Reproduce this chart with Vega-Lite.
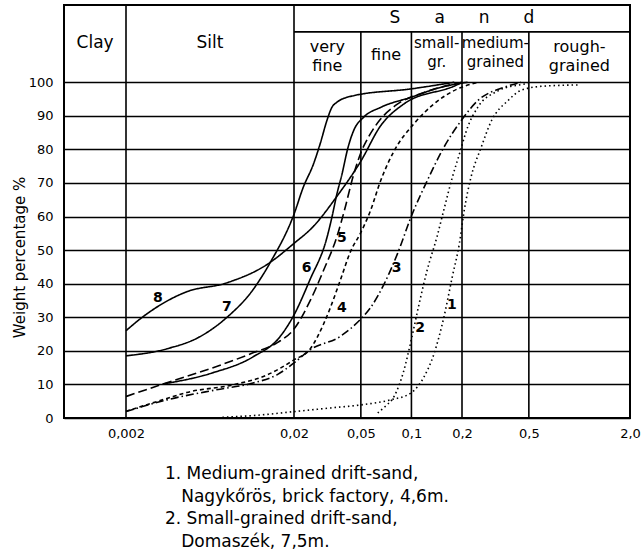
{
  "$schema": "https://vega.github.io/schema/vega-lite/v6.json",
  "width": 566,
  "height": 413,
  "autosize": {"type": "none"},
  "padding": {"left": 64, "top": 5, "right": 14, "bottom": 142},
  "background": "white",
  "config": {"view": {"stroke": "black", "strokeWidth": 2}, "font": "DejaVu Sans"},
  "title": {
    "text": ["1. Medium-grained drift-sand,", "\u200b\u00a0\u00a0\u00a0Nagykőrös, brick factory, 4,6m.", "2. Small-grained drift-sand,", "\u200b\u00a0\u00a0\u00a0Domaszék, 7,5m."],
    "orient": "bottom", "anchor": "start", "frame": "group", "align": "left",
    "dx": 101, "offset": 26, "fontSize": 17, "fontWeight": "normal", "lineHeight": 22.7,
    "color": "black", "font": "DejaVu Sans"
  },
  "datasets": {
    "bounds": [
      {"size": 0.002, "from": 0, "top": 123}, {"size": 0.02, "from": 0, "top": 123}, {"size": 0.05, "from": 0, "top": 115},
      {"size": 0.1, "from": 0, "top": 115}, {"size": 0.2, "from": 0, "top": 115}, {"size": 0.5, "from": 0, "top": 115}
    ],
    "seps": [{"from": 0.02, "to": 2.0, "level": 115}],
    "header": [
      {"label": "Clay", "size": 0.00131, "pct": 111.6, "kind": "main"},
      {"label": "Silt", "size": 0.00632, "pct": 111.6, "kind": "main"},
      {"label": "S\u2003\u2003a\u2003\u2003n\u2003\u2003d", "size": 0.2, "pct": 119, "kind": "main"},
      {"label": "very\nfine", "size": 0.0316, "pct": 110.4, "kind": "sub"},
      {"label": "fine", "size": 0.0707, "pct": 108.2, "kind": "sub"},
      {"label": "small-\ngr.", "size": 0.1414, "pct": 111.6, "kind": "narrow"},
      {"label": "medium-\ngrained", "size": 0.316, "pct": 111.6, "kind": "narrow"},
      {"label": "rough-\ngrained", "size": 1.0, "pct": 110.6, "kind": "sub"}
    ],
    "labels": [
      {"curve": "1", "size": 0.1743, "pct": 33.7},
      {"curve": "2", "size": 0.1125, "pct": 26.8},
      {"curve": "3", "size": 0.0816, "pct": 44.6},
      {"curve": "4", "size": 0.0385, "pct": 32.7},
      {"curve": "5", "size": 0.0385, "pct": 53.6},
      {"curve": "6", "size": 0.0238, "pct": 44.6},
      {"curve": "7", "size": 0.00798, "pct": 33.0},
      {"curve": "8", "size": 0.0031, "pct": 35.7}
    ],
    "curves": [
      {"curve": "1", "size": 0.0075, "pct": 0.2},
      {"curve": "1", "size": 0.012, "pct": 0.8},
      {"curve": "1", "size": 0.02, "pct": 1.9},
      {"curve": "1", "size": 0.033, "pct": 3.0},
      {"curve": "1", "size": 0.05, "pct": 3.9},
      {"curve": "1", "size": 0.075, "pct": 5.4},
      {"curve": "1", "size": 0.099, "pct": 7.4},
      {"curve": "1", "size": 0.119, "pct": 12.3},
      {"curve": "1", "size": 0.136, "pct": 19},
      {"curve": "1", "size": 0.156, "pct": 30},
      {"curve": "1", "size": 0.175, "pct": 42},
      {"curve": "1", "size": 0.193, "pct": 52},
      {"curve": "1", "size": 0.206, "pct": 61.7},
      {"curve": "1", "size": 0.226, "pct": 71.6},
      {"curve": "1", "size": 0.26, "pct": 80.6},
      {"curve": "1", "size": 0.3, "pct": 88.6},
      {"curve": "1", "size": 0.375, "pct": 94.5},
      {"curve": "1", "size": 0.45, "pct": 97.6},
      {"curve": "1", "size": 0.6, "pct": 98.8},
      {"curve": "1", "size": 1.0, "pct": 99.2},

      {"curve": "2", "size": 0.063, "pct": 1.5},
      {"curve": "2", "size": 0.07, "pct": 3.5},
      {"curve": "2", "size": 0.079, "pct": 6.5},
      {"curve": "2", "size": 0.09, "pct": 14},
      {"curve": "2", "size": 0.1, "pct": 23.5},
      {"curve": "2", "size": 0.11, "pct": 33},
      {"curve": "2", "size": 0.124, "pct": 44},
      {"curve": "2", "size": 0.142, "pct": 54},
      {"curve": "2", "size": 0.156, "pct": 62},
      {"curve": "2", "size": 0.175, "pct": 71.6},
      {"curve": "2", "size": 0.193, "pct": 78.6},
      {"curve": "2", "size": 0.216, "pct": 86.6},
      {"curve": "2", "size": 0.248, "pct": 92.5},
      {"curve": "2", "size": 0.33, "pct": 97.5},
      {"curve": "2", "size": 0.45, "pct": 99.3},
      {"curve": "2", "size": 0.5, "pct": 99.6},

      {"curve": "3", "size": 0.002, "pct": 1.9},
      {"curve": "3", "size": 0.0035, "pct": 5.4},
      {"curve": "3", "size": 0.0069, "pct": 8.4},
      {"curve": "3", "size": 0.0114, "pct": 10.4},
      {"curve": "3", "size": 0.016, "pct": 13},
      {"curve": "3", "size": 0.02, "pct": 16.4},
      {"curve": "3", "size": 0.0249, "pct": 20.3},
      {"curve": "3", "size": 0.0377, "pct": 24.3},
      {"curve": "3", "size": 0.05, "pct": 29.5},
      {"curve": "3", "size": 0.057, "pct": 32.8},
      {"curve": "3", "size": 0.0686, "pct": 39.8},
      {"curve": "3", "size": 0.0824, "pct": 48.8},
      {"curve": "3", "size": 0.101, "pct": 60.7},
      {"curve": "3", "size": 0.124, "pct": 70.6},
      {"curve": "3", "size": 0.156, "pct": 80.6},
      {"curve": "3", "size": 0.198, "pct": 88.6},
      {"curve": "3", "size": 0.248, "pct": 94.5},
      {"curve": "3", "size": 0.357, "pct": 98.5},
      {"curve": "3", "size": 0.45, "pct": 100},

      {"curve": "4", "size": 0.002, "pct": 2.0},
      {"curve": "4", "size": 0.0035, "pct": 5.8},
      {"curve": "4", "size": 0.0046, "pct": 7.6},
      {"curve": "4", "size": 0.0087, "pct": 9.9},
      {"curve": "4", "size": 0.0138, "pct": 12.8},
      {"curve": "4", "size": 0.02, "pct": 17.3},
      {"curve": "4", "size": 0.0249, "pct": 20.5},
      {"curve": "4", "size": 0.03, "pct": 28},
      {"curve": "4", "size": 0.033, "pct": 33},
      {"curve": "4", "size": 0.0377, "pct": 41},
      {"curve": "4", "size": 0.0435, "pct": 49.7},
      {"curve": "4", "size": 0.0497, "pct": 55},
      {"curve": "4", "size": 0.057, "pct": 61.7},
      {"curve": "4", "size": 0.0655, "pct": 70.6},
      {"curve": "4", "size": 0.079, "pct": 79.6},
      {"curve": "4", "size": 0.103, "pct": 87.5},
      {"curve": "4", "size": 0.136, "pct": 93.5},
      {"curve": "4", "size": 0.188, "pct": 98},
      {"curve": "4", "size": 0.25, "pct": 100},

      {"curve": "5", "size": 0.002, "pct": 6.4},
      {"curve": "5", "size": 0.0035, "pct": 10.5},
      {"curve": "5", "size": 0.0066, "pct": 15},
      {"curve": "5", "size": 0.0114, "pct": 19.4},
      {"curve": "5", "size": 0.016, "pct": 22.5},
      {"curve": "5", "size": 0.02, "pct": 26.5},
      {"curve": "5", "size": 0.025, "pct": 35},
      {"curve": "5", "size": 0.03, "pct": 44},
      {"curve": "5", "size": 0.036, "pct": 54},
      {"curve": "5", "size": 0.04, "pct": 62},
      {"curve": "5", "size": 0.045, "pct": 72},
      {"curve": "5", "size": 0.05, "pct": 79},
      {"curve": "5", "size": 0.056, "pct": 84},
      {"curve": "5", "size": 0.065, "pct": 88.8},
      {"curve": "5", "size": 0.08, "pct": 93},
      {"curve": "5", "size": 0.12, "pct": 97},
      {"curve": "5", "size": 0.2, "pct": 100},

      {"curve": "6", "size": 0.0033, "pct": 10.1},
      {"curve": "6", "size": 0.0065, "pct": 13.4},
      {"curve": "6", "size": 0.0114, "pct": 18.2},
      {"curve": "6", "size": 0.0165, "pct": 24.2},
      {"curve": "6", "size": 0.02, "pct": 30.7},
      {"curve": "6", "size": 0.0249, "pct": 41.2},
      {"curve": "6", "size": 0.0314, "pct": 53.7},
      {"curve": "6", "size": 0.0336, "pct": 59.7},
      {"curve": "6", "size": 0.036, "pct": 66.7},
      {"curve": "6", "size": 0.0386, "pct": 72.6},
      {"curve": "6", "size": 0.0418, "pct": 80.3},
      {"curve": "6", "size": 0.0453, "pct": 85.6},
      {"curve": "6", "size": 0.052, "pct": 89.6},
      {"curve": "6", "size": 0.0655, "pct": 92.5},
      {"curve": "6", "size": 0.099, "pct": 95.5},
      {"curve": "6", "size": 0.15, "pct": 98.5},
      {"curve": "6", "size": 0.216, "pct": 100},

      {"curve": "7", "size": 0.002, "pct": 18.5},
      {"curve": "7", "size": 0.0035, "pct": 20.6},
      {"curve": "7", "size": 0.0055, "pct": 24.2},
      {"curve": "7", "size": 0.0079, "pct": 29.8},
      {"curve": "7", "size": 0.0114, "pct": 38.2},
      {"curve": "7", "size": 0.0144, "pct": 46.2},
      {"curve": "7", "size": 0.02, "pct": 60.7},
      {"curve": "7", "size": 0.0227, "pct": 68.7},
      {"curve": "7", "size": 0.0261, "pct": 75.6},
      {"curve": "7", "size": 0.0286, "pct": 81.6},
      {"curve": "7", "size": 0.0314, "pct": 88.6},
      {"curve": "7", "size": 0.0336, "pct": 92.5},
      {"curve": "7", "size": 0.0359, "pct": 94},
      {"curve": "7", "size": 0.0453, "pct": 96},
      {"curve": "7", "size": 0.099, "pct": 98},
      {"curve": "7", "size": 0.18, "pct": 100},

      {"curve": "8", "size": 0.002, "pct": 26},
      {"curve": "8", "size": 0.0025, "pct": 30},
      {"curve": "8", "size": 0.0046, "pct": 37.6},
      {"curve": "8", "size": 0.0079, "pct": 40.2},
      {"curve": "8", "size": 0.0138, "pct": 45.7},
      {"curve": "8", "size": 0.02, "pct": 52},
      {"curve": "8", "size": 0.026, "pct": 57},
      {"curve": "8", "size": 0.036, "pct": 66},
      {"curve": "8", "size": 0.05, "pct": 76.5},
      {"curve": "8", "size": 0.0655, "pct": 87},
      {"curve": "8", "size": 0.09, "pct": 93.5},
      {"curve": "8", "size": 0.188, "pct": 99.3},
      {"curve": "8", "size": 0.2, "pct": 100}
    ]
  },
  "layer": [
    {
      "data": {"name": "curves"},
      "mark": {"type": "line", "color": "black", "strokeWidth": 1.6, "interpolate": "monotone"},
      "encoding": {
        "x": {
          "field": "size", "type": "quantitative",
          "scale": {"type": "log", "domain": [0.000855, 2.0], "nice": false},
          "axis": {
            "values": [0.002, 0.02, 0.05, 0.1, 0.2, 0.5, 2],
            "grid": false, "domain": false, "ticks": false, "labelPadding": 9,
            "labelFontSize": 13, "labelColor": "black", "labelFlush": false, "labelOverlap": false,
            "labelExpr": "datum.value >= 1 ? '2,0' : replace(format(datum.value, '~g'), '.', ',')",
            "title": null
          }
        },
        "y": {
          "field": "pct", "type": "quantitative",
          "scale": {"domain": [0, 123], "nice": false},
          "axis": {
            "values": [0, 10, 20, 30, 40, 50, 60, 70, 80, 90, 100],
            "grid": true, "gridColor": "black", "gridWidth": 1.6, "gridOpacity": 1,
            "domain": false, "ticks": false, "labelPadding": 11, "labelFontSize": 13, "labelColor": "black",
            "title": "Weight percentage %", "titleFontSize": 15, "titleFontWeight": "normal", "titleColor": "black",
            "titleX": -45, "titleY": 252, "titleAngle": -90, "titleAlign": "center", "titleBaseline": "middle"
          }
        },
        "detail": {"field": "curve", "type": "nominal"},
        "strokeDash": {
          "field": "curve", "type": "nominal", "legend": null,
          "scale": {"domain": ["1", "2", "3", "4", "5", "6", "7", "8"],
                    "range": [[1.5, 3], [1.5, 3], [8, 3, 1.5, 3], [4, 3], [9, 4], [1, 0], [1, 0], [1, 0]]}
        }
      }
    },
    {
      "data": {"name": "bounds"},
      "mark": {"type": "rule", "color": "black", "strokeWidth": 1.6},
      "encoding": {
        "x": {"field": "size", "type": "quantitative"},
        "y": {"field": "from", "type": "quantitative"},
        "y2": {"field": "top"}
      }
    },
    {
      "data": {"name": "seps"},
      "mark": {"type": "rule", "color": "black", "strokeWidth": 1.6},
      "encoding": {
        "x": {"field": "from", "type": "quantitative"},
        "x2": {"field": "to"},
        "y": {"field": "level", "type": "quantitative"}
      }
    },
    {
      "data": {"name": "header"},
      "mark": {"type": "text", "color": "black", "lineBreak": "\n", "lineHeight": 19, "align": "center", "baseline": "middle"},
      "encoding": {
        "x": {"field": "size", "type": "quantitative"},
        "y": {"field": "pct", "type": "quantitative"},
        "text": {"field": "label", "type": "nominal"},
        "size": {"field": "kind", "type": "ordinal", "legend": null,
                 "scale": {"domain": ["main", "sub", "narrow"], "range": [17, 15, 12]}}
      }
    },
    {
      "data": {"name": "labels"},
      "mark": {"type": "text", "color": "black", "fontSize": 14, "fontWeight": "bold", "align": "center", "baseline": "middle"},
      "encoding": {
        "x": {"field": "size", "type": "quantitative"},
        "y": {"field": "pct", "type": "quantitative"},
        "text": {"field": "curve", "type": "nominal"}
      }
    }
  ]
}
